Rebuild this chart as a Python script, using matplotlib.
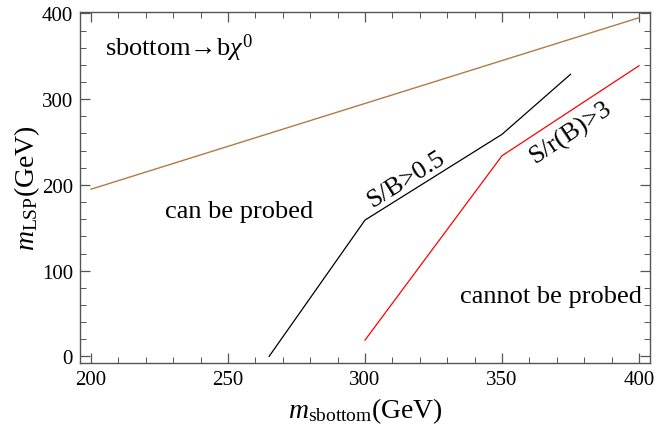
import numpy as np
import matplotlib
matplotlib.use("Agg")
import matplotlib.pyplot as plt
from matplotlib.ticker import MultipleLocator

plt.rcParams['font.family'] = ['Liberation Serif', 'DejaVu Serif']
plt.rcParams['mathtext.fontset'] = 'custom'
plt.rcParams['mathtext.rm'] = 'Liberation Serif'
plt.rcParams['mathtext.it'] = 'Liberation Serif:italic'

# линии границ
orange_x = np.array([200, 400])
orange_y = np.array([195, 395])
sb_x = np.array([265, 300, 350, 375])
sb_y = np.array([0, 159, 259, 329])
srb_x = np.array([300, 350, 400])
srb_y = np.array([19, 234, 339])

fig = plt.figure(figsize=(6.57, 4.31), dpi=100)
ax = fig.add_axes([0.1218, 0.1548, 0.8675, 0.8157])

ax.plot(orange_x, orange_y, color='#b07b45', lw=1.0)
ax.plot(sb_x, sb_y, color='black', lw=0.9)
ax.plot(srb_x, srb_y, color='red', lw=0.9)

ax.set_xlim(196, 404)
ax.set_ylim(-8, 402)

ax.xaxis.set_major_locator(MultipleLocator(50))
ax.xaxis.set_minor_locator(MultipleLocator(10))
ax.yaxis.set_major_locator(MultipleLocator(100))
ax.yaxis.set_minor_locator(MultipleLocator(20))
ax.tick_params(which='both', direction='in', top=True, right=True,
               color='#555555', labelsize=15, pad=5)
ax.tick_params(which='major', length=7, width=0.9)
ax.tick_params(which='minor', length=4, width=0.7)
for s in ax.spines.values():
    s.set_color('#555555')
    s.set_linewidth(1.0)

ax.set_xlabel(r'$m_{\rm sbottom}$(GeV)', fontsize=20, labelpad=4)
ax.set_ylabel(r'$m_{\rm LSP}$(GeV)', fontsize=20, labelpad=0)

ax.text(205, 360, 'sbottom\u2192b$\\chi^0$', fontsize=19, va='center', ha='left')
ax.text(254, 170, 'can be probed', fontsize=19, va='center', ha='center')
ax.text(368, 70, 'cannot be probed', fontsize=19, va='center', ha='center')
ax.text(315, 207, 'S/B>0.5', fontsize=19, rotation=32, va='center', ha='center')
ax.text(375, 262, 'S/r(B)>3', fontsize=19, rotation=34, va='center', ha='center')

fig.savefig('out.png', dpi=100)
